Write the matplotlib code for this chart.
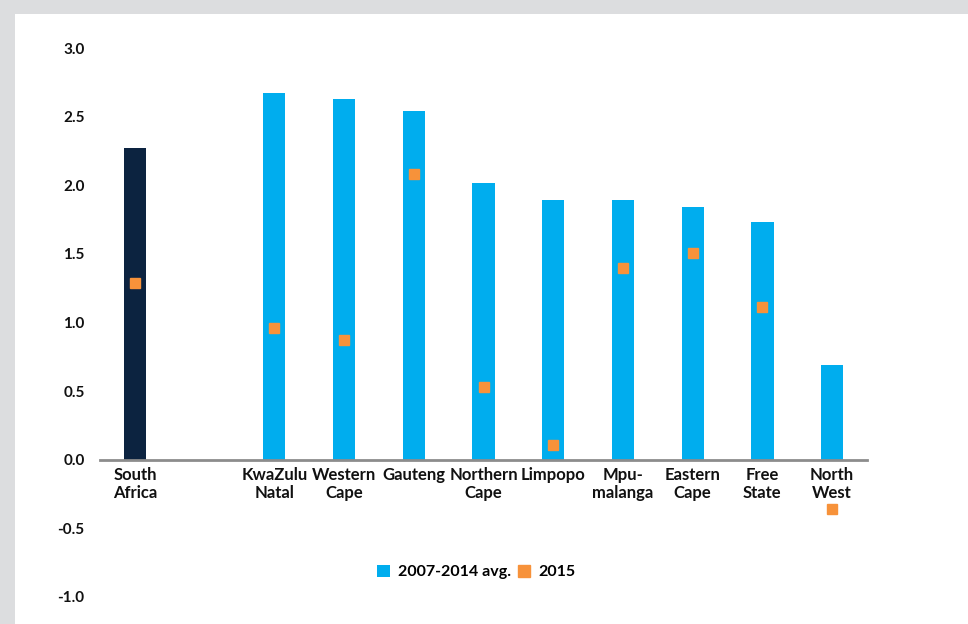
import matplotlib.pyplot as plt
from matplotlib.patches import Rectangle, Patch
from matplotlib.lines import Line2D

plt.rcParams['font.family'] = ['Lato', 'DejaVu Sans']
plt.rcParams['font.weight'] = 'bold'

# data
regions = ['South\nAfrica', '', 'KwaZulu\nNatal', 'Western\nCape', 'Gauteng', 'Northern\nCape',
           'Limpopo', 'Mpu-\nmalanga', 'Eastern\nCape', 'Free\nState', 'North\nWest']
avg_2007_2014 = [2.27, None, 2.67, 2.63, 2.54, 2.02, 1.89, 1.89, 1.84, 1.73, 0.69]
val_2015 = [1.29, None, 0.96, 0.87, 2.08, 0.53, 0.11, 1.40, 1.51, 1.11, -0.36]

navy = '#0c2340'
blue = '#00adee'
orange = '#f7923a'

fig = plt.figure(figsize=(9.68, 6.24), dpi=100, facecolor='#dcdddf')
# white panel inside the grey frame
fig.patches.append(Rectangle((15 / 968, 0), 1, 1 - 14 / 624, transform=fig.transFigure,
                             facecolor='white', edgecolor='none', zorder=-5))

ax = fig.add_axes([100 / 968, 1 - 597 / 624, 767 / 968, 549 / 624])
ax.set_facecolor('none')
ax.set_zorder(2)

x = list(range(len(regions)))
bar_x = [i for i in x if avg_2007_2014[i] is not None]
bar_h = [avg_2007_2014[i] for i in bar_x]
bar_c = [navy if i == 0 else blue for i in bar_x]
ax.bar(bar_x, bar_h, width=0.32, color=bar_c, zorder=2)

pt_x = [i for i in x if val_2015[i] is not None]
pt_y = [val_2015[i] for i in pt_x]
ax.plot(pt_x, pt_y, linestyle='none', marker='s', markersize=7.8, color=orange, zorder=3)

ax.set_xlim(-0.5, 10.5)
ax.set_ylim(-1.0, 3.0)
ax.set_yticks([-1.0, -0.5, 0.0, 0.5, 1.0, 1.5, 2.0, 2.5, 3.0])
ax.set_yticklabels(['-1.0', '-0.5', '0.0', '0.5', '1.0', '1.5', '2.0', '2.5', '3.0'])
ax.set_xticks(x)
ax.set_xticklabels(regions, linespacing=1.25)

for s in ['top', 'right', 'left']:
    ax.spines[s].set_visible(False)
ax.spines['bottom'].set_position(('data', 0))
ax.spines['bottom'].set_color('#8c8c8c')
ax.spines['bottom'].set_linewidth(2)
ax.tick_params(axis='both', length=0, colors='#111111')
ax.tick_params(axis='y', pad=11, labelsize=11)
ax.tick_params(axis='x', pad=5, labelsize=12)

handles = [Patch(facecolor=blue, edgecolor='none'),
           Line2D([], [], linestyle='none', marker='s', markersize=8, color=orange)]
fig.legend(handles, ['2007-2014 avg.', '2015'], loc='center', bbox_to_anchor=(476 / 968, 1 - 572 / 624),
           ncol=2, frameon=False, fontsize=11.5, handlelength=0.8, handleheight=0.8,
           handletextpad=0.5, columnspacing=0.4)

fig.savefig('out.png', dpi=100, facecolor=fig.get_facecolor())
